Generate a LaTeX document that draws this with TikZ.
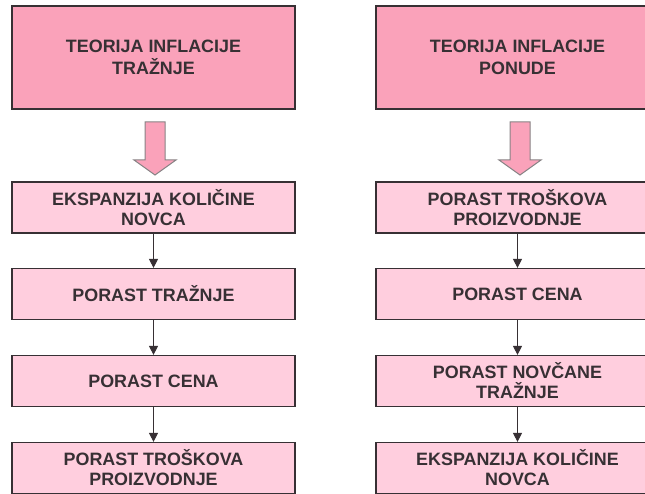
\documentclass[tikz,border=0pt]{standalone}
\usepackage{fontspec}
\setmainfont{Liberation Sans}
\usetikzlibrary{arrows.meta}
\definecolor{tamnoroze}{RGB}{250,162,186}
\definecolor{svetloroze}{RGB}{255,206,222}
\definecolor{okvir}{RGB}{55,48,52}
\tikzset{
  teorija/.style={draw=okvir, line width=1.2pt, fill=tamnoroze, minimum width=283pt,
    minimum height=103pt, inner sep=0pt, align=center, text=okvir,
    font=\bfseries\fontsize{17.9}{22}\selectfont},
  korak/.style={teorija, fill=svetloroze, minimum height=51pt,
    font=\bfseries\fontsize{17.9}{20}\selectfont},
  veza/.style={draw=okvir, line width=1pt, -{Triangle[width=9pt,length=9pt]}},
  strelica/.style={draw=okvir!60, line width=1pt, fill=tamnoroze}
}
\begin{document}
\begin{tikzpicture}[x=1pt, y=-1pt]
    \useasboundingbox (0,0) rectangle (645,494);
    \clip (0,0) rectangle (645,494);

    % leva kolona
    \node[teorija] (ltop) at (153.5, 57.5) {TEORIJA INFLACIJE\\TRAŽNJE};
    \node[korak] (l1) at (153.5, 207.5) {EKSPANZIJA KOLIČINE\\NOVCA};
    \node[korak] (l2) at (153.5, 294) {PORAST TRAŽNJE};
    \node[korak] (l3) at (153.5, 381) {PORAST CENA};
    \node[korak] (l4) at (153.5, 468) {PORAST TROŠKOVA\\PROIZVODNJE};

    % desna kolona
    \node[teorija] (rtop) at (517.5, 57.5) {TEORIJA INFLACIJE\\PONUDE};
    \node[korak] (r1) at (517.5, 207.5) {PORAST TROŠKOVA\\PROIZVODNJE};
    \node[korak] (r2) at (517.5, 294) {PORAST CENA};
    \node[korak] (r3) at (517.5, 381) {PORAST NOVČANE\\TRAŽNJE};
    \node[korak] (r4) at (517.5, 468) {EKSPANZIJA KOLIČINE\\NOVCA};

    % velike strelice
    \foreach \c in {155, 520}
        \draw[strelica] (\c-10,122) -- (\c+10,122) -- (\c+10,160) -- (\c+21,160)
            -- (\c,175) -- (\c-21,160) -- (\c-10,160) -- cycle;

    \draw[veza] (l1) -- (l2);
    \draw[veza] (l2) -- (l3);
    \draw[veza] (l3) -- (l4);
    \draw[veza] (r1) -- (r2);
    \draw[veza] (r2) -- (r3);
    \draw[veza] (r3) -- (r4);
\end{tikzpicture}
\end{document}
